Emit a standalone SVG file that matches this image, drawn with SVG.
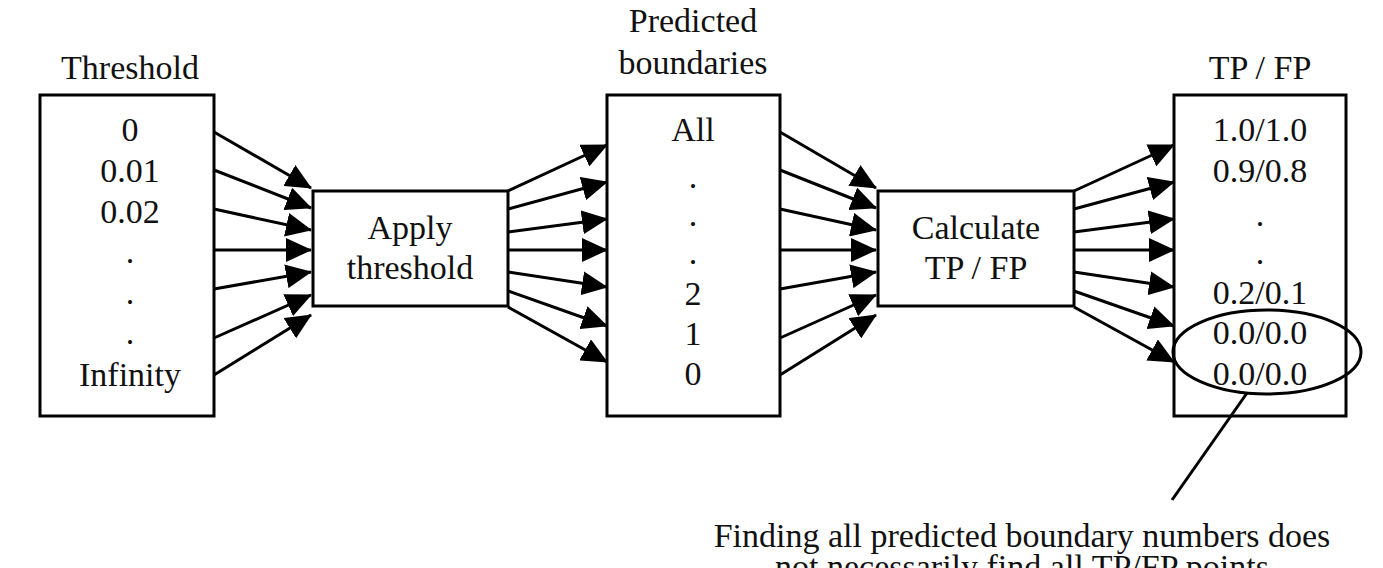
<svg xmlns="http://www.w3.org/2000/svg" width="1383" height="568" viewBox="0 0 1383 568">
<style>
rect{fill:#fff;stroke:#000;stroke-width:3}
text{font-family:"Liberation Serif",serif;font-size:34px;fill:#111;text-anchor:middle}
.c line{stroke:#000;stroke-width:3;marker-end:url(#a)}
</style>
<defs><marker id="a" markerUnits="userSpaceOnUse" markerWidth="26" markerHeight="24" refX="25" refY="12" orient="auto"><path d="M0,0L26,12L0,24z" fill="#000"/></marker></defs>
<rect width="1383" height="568" style="stroke:none"/>
<g id="threshold"><text x="130" y="79">Threshold</text><rect x="40" y="95" width="174" height="321"/>
<text x="130" y="141">0</text><text x="130" y="182">0.01</text><text x="130" y="223">0.02</text><text x="130" y="263">.</text><text x="130" y="304">.</text><text x="130" y="344">.</text><text x="130" y="386">Infinity</text></g>
<g id="apply"><rect x="313" y="191" width="195" height="115"/><text x="410" y="239">Apply</text><text x="410" y="279">threshold</text></g>
<g id="predicted"><text x="693" y="32">Predicted</text><text x="693" y="74">boundaries</text><rect x="607" y="95" width="173" height="321"/>
<text x="693" y="141">All</text><text x="693" y="188">.</text><text x="693" y="226">.</text><text x="693" y="264">.</text><text x="693" y="305">2</text><text x="693" y="345">1</text><text x="693" y="385">0</text></g>
<g id="calc"><rect x="878" y="191" width="196" height="115"/><text x="976" y="239">Calculate</text><text x="976" y="279">TP / FP</text></g>
<g id="tpfp"><text x="1260" y="79">TP / FP</text><rect x="1174" y="95" width="172" height="321"/>
<text x="1260" y="141">1.0/1.0</text><text x="1260" y="182">0.9/0.8</text><text x="1260" y="226">.</text><text x="1260" y="264">.</text><text x="1260" y="304">0.2/0.1</text><text x="1260" y="344">0.0/0.0</text><text x="1260" y="385">0.0/0.0</text>
<ellipse cx="1267" cy="352" rx="94" ry="42" fill="none" stroke="#000" stroke-width="3"/></g>
<g id="note"><line x1="1247" y1="393" x2="1172" y2="500" stroke="#000" stroke-width="3"/>
<text x="1022" y="547">Finding all predicted boundary numbers does</text><text x="1022" y="578">not necessarily find all TP/FP points</text></g>
<g class="c">
<line x1="214" y1="132" x2="311" y2="188"/><line x1="214" y1="170" x2="311" y2="208"/><line x1="214" y1="209" x2="311" y2="230"/><line x1="214" y1="250" x2="311" y2="250"/><line x1="214" y1="289" x2="311" y2="272"/><line x1="214" y1="338" x2="311" y2="295"/><line x1="214" y1="375" x2="311" y2="315"/>
<line x1="508" y1="191" x2="607" y2="145"/><line x1="508" y1="209" x2="607" y2="182"/><line x1="508" y1="232" x2="607" y2="219"/><line x1="508" y1="250" x2="607" y2="250"/><line x1="508" y1="272" x2="607" y2="287"/><line x1="508" y1="291" x2="607" y2="326"/><line x1="508" y1="307" x2="607" y2="362"/>
<line x1="780" y1="132" x2="876" y2="188"/><line x1="780" y1="170" x2="876" y2="208"/><line x1="780" y1="209" x2="876" y2="230"/><line x1="780" y1="250" x2="876" y2="250"/><line x1="780" y1="289" x2="876" y2="272"/><line x1="780" y1="338" x2="876" y2="295"/><line x1="780" y1="375" x2="876" y2="315"/>
<line x1="1074" y1="191" x2="1174" y2="145"/><line x1="1074" y1="209" x2="1174" y2="182"/><line x1="1074" y1="232" x2="1174" y2="219"/><line x1="1074" y1="250" x2="1174" y2="250"/><line x1="1074" y1="272" x2="1174" y2="287"/><line x1="1074" y1="291" x2="1174" y2="326"/><line x1="1074" y1="307" x2="1174" y2="362"/>
</g>
</svg>
